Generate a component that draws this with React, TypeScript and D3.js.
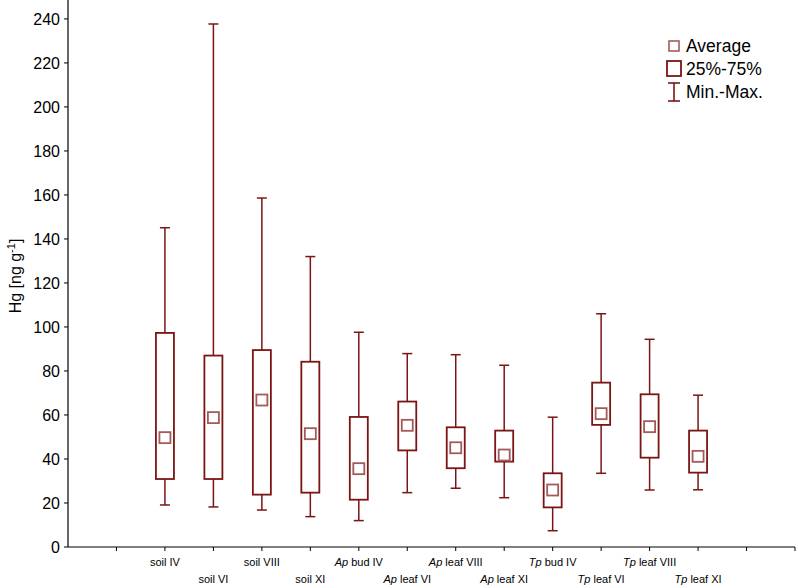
import React from "react";
import * as d3 from "d3";

const categories = [
  { pre: "", name: "soil IV" },
  { pre: "", name: "soil VI" },
  { pre: "", name: "soil VIII" },
  { pre: "", name: "soil XI" },
  { pre: "Ap", name: " bud IV" },
  { pre: "Ap", name: " leaf VI" },
  { pre: "Ap", name: " leaf VIII" },
  { pre: "Ap", name: " leaf XI" },
  { pre: "Tp", name: " bud IV" },
  { pre: "Tp", name: " leaf VI" },
  { pre: "Tp", name: " leaf VIII" },
  { pre: "Tp", name: " leaf XI" },
];
const minVals = [19.1, 18.2, 16.8, 13.8, 12.0, 24.7, 26.7, 22.4, 7.4, 33.5, 25.9, 26.0];
const q1Vals = [30.9, 30.9, 23.8, 24.7, 21.5, 43.9, 35.8, 38.8, 18.0, 55.5, 40.6, 33.8];
const meanVals = [49.7, 58.8, 66.8, 51.5, 35.6, 55.3, 45.1, 41.8, 25.9, 60.6, 54.7, 41.2];
const q3Vals = [97.3, 87.0, 89.5, 84.2, 59.1, 66.1, 54.4, 52.9, 33.5, 74.7, 69.4, 52.9];
const maxVals = [145.1, 237.7, 158.6, 132.0, 97.6, 87.9, 87.4, 82.6, 59.0, 106.0, 94.4, 69.0];
const yTicks = [0, 20, 40, 60, 80, 100, 120, 140, 160, 180, 200, 220, 240];
const legendItems = ["Average", "25%-75%", "Min.-Max."];

const BOX = "#7b1515";
const MEAN = "#a45a5a";

export default function App() {
  const W = 798, H = 588;
  const x = d3.scaleLinear().domain([0, 15]).range([68, 795]);
  const y = d3.scaleLinear().domain([0, 248.6]).range([547, 0]);
  const bw = 18, cw = 10, mw = 11;
  const xTicks = d3.range(1, 16);
  return (
    <svg width={W} height={H} style={{ position: "absolute", left: 0, top: 0, fontFamily: "Liberation Sans, Arial, sans-serif" }}>
      <rect width={W} height={H} fill="#fff" />
      {/* axes */}
      <line x1={x(0)} x2={x(0)} y1={0} y2={y(0)} stroke="#000" strokeWidth={1.2} />
      <line x1={x(0)} x2={x(15)} y1={y(0)} y2={y(0)} stroke="#000" strokeWidth={1.2} />
      {yTicks.map((t) => (
        <g key={t}>
          <line x1={x(0) - 4} x2={x(0)} y1={y(t)} y2={y(t)} stroke="#000" strokeWidth={1} />
          <text x={x(0) - 8} y={y(t)} dy="0.36em" textAnchor="end" fontSize={16} fill="#000">{t}</text>
        </g>
      ))}
      {xTicks.map((t) => (
        <line key={t} x1={x(t)} x2={x(t)} y1={y(0)} y2={y(0) + 4} stroke="#000" strokeWidth={1} />
      ))}
      <text transform={`translate(21,276) rotate(-90)`} textAnchor="middle" fontSize={16} fill="#000">
        Hg [ng g<tspan dy="-6" fontSize={11}>-1</tspan><tspan dy="6">]</tspan>
      </text>
      {categories.map((c, i) => {
        const cx = x(i + 2);
        return (
          <g key={i}>
            <line x1={cx} x2={cx} y1={y(maxVals[i])} y2={y(q3Vals[i])} stroke={BOX} strokeWidth={1.5} />
            <line x1={cx} x2={cx} y1={y(q1Vals[i])} y2={y(minVals[i])} stroke={BOX} strokeWidth={1.5} />
            <line x1={cx - cw / 2} x2={cx + cw / 2} y1={y(maxVals[i])} y2={y(maxVals[i])} stroke={BOX} strokeWidth={1.5} />
            <line x1={cx - cw / 2} x2={cx + cw / 2} y1={y(minVals[i])} y2={y(minVals[i])} stroke={BOX} strokeWidth={1.5} />
            <rect x={cx - bw / 2} y={y(q3Vals[i])} width={bw} height={y(q1Vals[i]) - y(q3Vals[i])} fill="#fff" stroke={BOX} strokeWidth={1.8} />
            <rect x={cx - mw / 2} y={y(meanVals[i]) - mw / 2} width={mw} height={mw} fill="none" stroke={MEAN} strokeWidth={1.8} />
            <text x={cx} y={i % 2 === 0 ? 566 : 583} textAnchor="middle" fontSize={11} fill="#000">
              {c.pre ? <tspan fontStyle="italic">{c.pre}</tspan> : null}
              <tspan>{c.name}</tspan>
            </text>
          </g>
        );
      })}
      {/* legend */}
      <g>
        <rect x={669} y={41} width={10} height={10} fill="none" stroke={MEAN} strokeWidth={1.6} />
        <text x={686} y={46} dy="0.36em" fontSize={17.5} fill="#000">{legendItems[0]}</text>
        <rect x={667} y={61} width={14} height={15} fill="none" stroke={BOX} strokeWidth={1.8} />
        <text x={686} y={69} dy="0.36em" fontSize={17.5} fill="#000">{legendItems[1]}</text>
        <line x1={674} x2={674} y1={83} y2={101} stroke={BOX} strokeWidth={1.6} />
        <line x1={668} x2={680} y1={83} y2={83} stroke={BOX} strokeWidth={1.6} />
        <line x1={668} x2={680} y1={101} y2={101} stroke={BOX} strokeWidth={1.6} />
        <text x={686} y={92} dy="0.36em" fontSize={17.5} fill="#000">{legendItems[2]}</text>
      </g>
    </svg>
  );
}
